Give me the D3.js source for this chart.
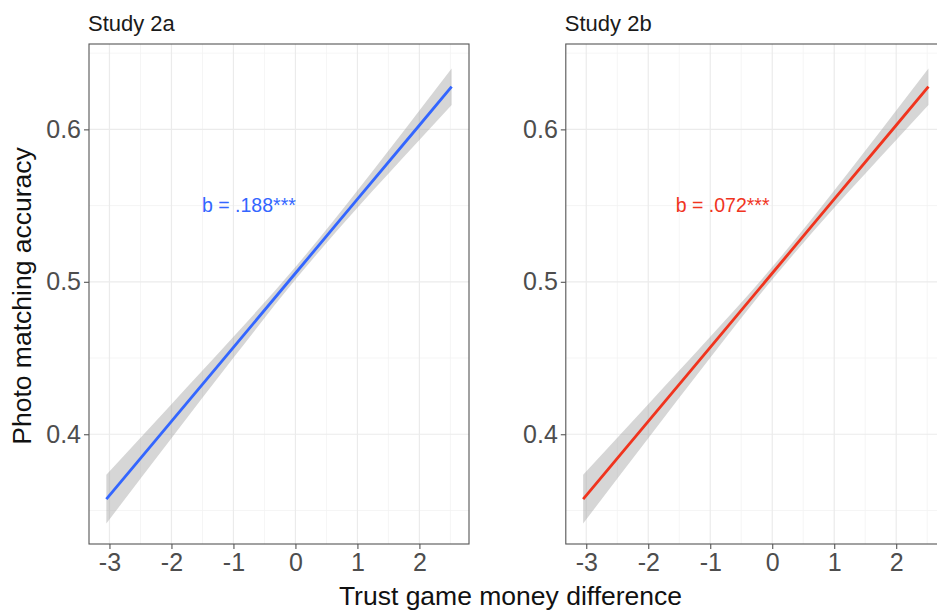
<!DOCTYPE html>
<html>
<head>
<meta charset="utf-8">
<script src="https://cdn.jsdelivr.net/npm/d3@7"></script>
<style>
  html, body { margin: 0; padding: 0; background: #fff; }
  svg { display: block; font-family: "Liberation Sans", Arial, Helvetica, sans-serif; }
</style>
</head>
<body>
<svg id="chart" width="937" height="612"></svg>
<script>
// Panels
const studies = ["Study 2a", "Study 2b"];
const lineColors = ["#3366FF", "#F0341E"];
const coefLabels = ["b = .188***", "b = .072***"];
const coefLabelX = [-0.75, -0.80];
const coefLabelY = [0.55, 0.55];

// Fitted regression line with 95% confidence band (x, fit, lower, upper)
const fitX = [-3.05, -2, -1, 0, 1, 2, 2.52];
const fit2a = [0.3575, 0.4085, 0.4570, 0.5056, 0.5542, 0.6027, 0.6280];
const low2a = [0.3415, 0.3973, 0.4501, 0.5015, 0.5485, 0.5930, 0.6160];
const high2a = [0.3735, 0.4197, 0.4639, 0.5097, 0.5599, 0.6124, 0.6400];
const fit2b = [0.3575, 0.4085, 0.4570, 0.5056, 0.5542, 0.6027, 0.6280];
const low2b = [0.3415, 0.3973, 0.4501, 0.5015, 0.5485, 0.5930, 0.6160];
const high2b = [0.3735, 0.4197, 0.4639, 0.5097, 0.5599, 0.6124, 0.6400];

// Axes
const xTicks = [-3, -2, -1, 0, 1, 2];
const xTickLabels = ["-3", "-2", "-1", "0", "1", "2"];
const xMinor = [-2.5, -1.5, -0.5, 0.5, 1.5, 2.5];
const yTicks = [0.4, 0.5, 0.6];
const yTickLabels = ["0.4", "0.5", "0.6"];
const yMinor = [0.35, 0.45, 0.55, 0.65];
const xDomain = [-3.33, 2.80];
const yDomain = [0.328, 0.656];
const xTitle = "Trust game money difference";
const yTitle = "Photo matching accuracy";

const fits = [fit2a, fit2b];
const lows = [low2a, low2b];
const highs = [high2a, high2b];

const svg = d3.select("#chart");
const panelLeft = [89, 565.8];
const panelWidth = 380;
const panelTop = 44, panelBottom = 544;

const y = d3.scaleLinear().domain(yDomain).range([panelBottom, panelTop]);

studies.forEach((name, i) => {
  const x = d3.scaleLinear().domain(xDomain).range([panelLeft[i], panelLeft[i] + panelWidth]);
  const g = svg.append("g");

  // grid
  g.selectAll(".vminor").data(xMinor).join("line")
    .attr("x1", d => x(d)).attr("x2", d => x(d))
    .attr("y1", panelTop).attr("y2", panelBottom)
    .attr("stroke", "#F2F2F2").attr("stroke-width", 0.8);
  g.selectAll(".hminor").data(yMinor).join("line")
    .attr("y1", d => y(d)).attr("y2", d => y(d))
    .attr("x1", panelLeft[i]).attr("x2", panelLeft[i] + panelWidth)
    .attr("stroke", "#F2F2F2").attr("stroke-width", 0.8);
  g.selectAll(".vmajor").data(xTicks).join("line")
    .attr("x1", d => x(d)).attr("x2", d => x(d))
    .attr("y1", panelTop).attr("y2", panelBottom)
    .attr("stroke", "#EBEBEB").attr("stroke-width", 1.2);
  g.selectAll(".hmajor").data(yTicks).join("line")
    .attr("y1", d => y(d)).attr("y2", d => y(d))
    .attr("x1", panelLeft[i]).attr("x2", panelLeft[i] + panelWidth)
    .attr("stroke", "#EBEBEB").attr("stroke-width", 1.2);

  // confidence band
  const rows = fitX.map((v, k) => ({x: v, fit: fits[i][k], lo: lows[i][k], hi: highs[i][k]}));
  g.append("path").datum(rows)
    .attr("d", d3.area().x(d => x(d.x)).y0(d => y(d.lo)).y1(d => y(d.hi)).curve(d3.curveMonotoneX))
    .attr("fill", "#999999").attr("fill-opacity", 0.4);

  // fitted line
  g.append("path").datum(rows)
    .attr("d", d3.line().x(d => x(d.x)).y(d => y(d.fit)))
    .attr("fill", "none").attr("stroke", lineColors[i]).attr("stroke-width", 2.8);

  // coefficient label
  g.append("text")
    .attr("x", x(coefLabelX[i])).attr("y", y(coefLabelY[i]))
    .attr("text-anchor", "middle").attr("dy", "0.35em")
    .attr("font-size", 19.5).attr("fill", lineColors[i])
    .text(coefLabels[i]);

  // panel border
  g.append("rect")
    .attr("x", panelLeft[i]).attr("y", panelTop)
    .attr("width", panelWidth).attr("height", panelBottom - panelTop)
    .attr("fill", "none").attr("stroke", "#555").attr("stroke-width", 1.1);

  // axes
  const xAxis = g.append("g").attr("transform", `translate(0,${panelBottom})`)
    .call(d3.axisBottom(x).tickValues(xTicks).tickSize(5).tickPadding(4)
      .tickFormat((d, k) => xTickLabels[k]));
  xAxis.select(".domain").remove();
  xAxis.selectAll("line").attr("stroke", "#555").attr("stroke-width", 1.1);
  xAxis.selectAll("text").attr("font-size", 25).attr("fill", "#4D4D4D")
    .attr("font-family", "Liberation Sans, Arial, sans-serif");

  const yAxis = g.append("g").attr("transform", `translate(${panelLeft[i]},0)`)
    .call(d3.axisLeft(y).tickValues(yTicks).tickSize(5).tickPadding(3)
      .tickFormat((d, k) => yTickLabels[k]));
  yAxis.select(".domain").remove();
  yAxis.selectAll("line").attr("stroke", "#555").attr("stroke-width", 1.1);
  yAxis.selectAll("text").attr("font-size", 25).attr("fill", "#4D4D4D")
    .attr("font-family", "Liberation Sans, Arial, sans-serif");

  // panel title
  g.append("text")
    .attr("x", panelLeft[i] - 1).attr("y", 31)
    .attr("font-size", 22).attr("fill", "#1A1A1A")
    .text(name);
});

// axis titles
svg.append("text")
  .attr("x", 510.5).attr("y", 605)
  .attr("text-anchor", "middle").attr("font-size", 26.5).attr("fill", "#111")
  .text(xTitle);

svg.append("text")
  .attr("transform", `translate(31,${(panelTop + panelBottom) / 2 + 2}) rotate(-90)`)
  .attr("text-anchor", "middle").attr("font-size", 26.5).attr("fill", "#111")
  .text(yTitle);
</script>
</body>
</html>
